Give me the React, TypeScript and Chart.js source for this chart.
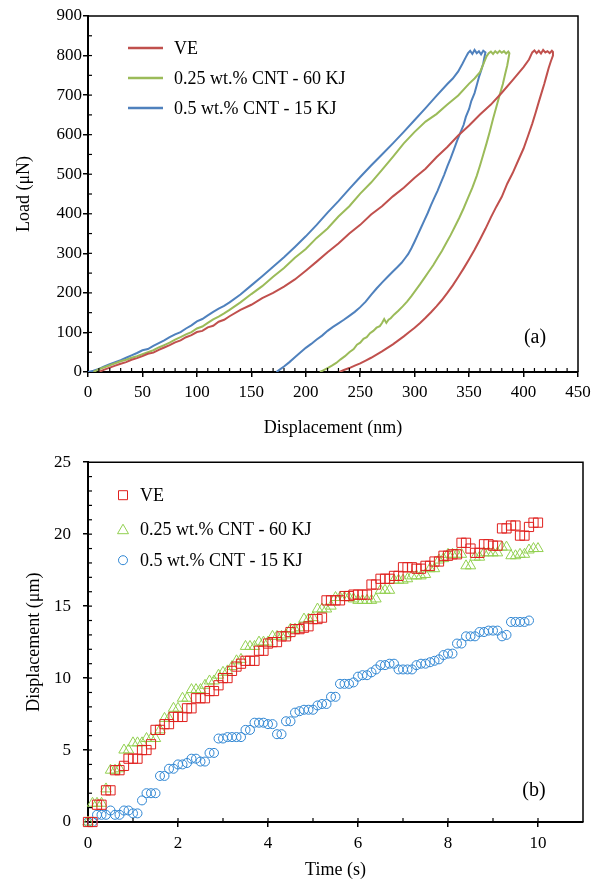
import React, { useEffect, useRef } from 'react';
import { Chart, registerables } from 'chart.js';
Chart.register(...registerables);

const SERIF = "'Liberation Serif', 'Times New Roman', serif";

const SERIES_NAMES = ['VE', '0.25 wt.% CNT - 60 KJ', '0.5 wt.% CNT - 15 KJ'];
const LINE_COLORS = ['#C0504D', '#9BBB59', '#4F81BD'];
const MARKER_COLORS = ['#E0201E', '#92D050', '#2F86D3'];

// (a) Load (μN) vs displacement (nm): [displacement, load]
const VE_CURVE = [
  [10, 0], [15, 6], [20, 11], [25, 16], [30, 21], [35, 25], [40, 31], [45, 35], [50, 40], [55, 46],
  [60, 49], [65, 56], [70, 62], [75, 68], [80, 75], [85, 80], [90, 88], [95, 93], [100, 101], [105, 104],
  [110, 113], [115, 117], [120, 127], [125, 132], [130, 141], [140, 157], [150, 170], [160, 187], [170, 200],
  [180, 216], [190, 234], [200, 256], [210, 279], [220, 303], [230, 325], [240, 350], [250, 372], [260, 398],
  [270, 419], [280, 444], [290, 466], [300, 491], [310, 514], [320, 543], [330, 569], [340, 598], [350, 623],
  [360, 651], [370, 676], [380, 706], [390, 738], [400, 771], [405, 790], [408, 808],
  [410, 813], [412, 806], [414, 812], [416, 805], [418, 814], [420, 808], [422, 811], [424, 806], [426, 812], [427, 809],
  [427, 800], [425, 785], [423, 768], [421, 748], [419, 728], [417, 710], [414, 683], [411, 655], [408, 628],
  [404, 596], [400, 565], [395, 534], [390, 503], [385, 476], [380, 443], [375, 418], [370, 391], [365, 362],
  [360, 335], [355, 309], [350, 285], [345, 262], [340, 240], [335, 219], [330, 200], [325, 182], [320, 166],
  [315, 151], [310, 137], [305, 124], [300, 112], [295, 101], [290, 90], [285, 80], [280, 70], [275, 61],
  [270, 52], [265, 44], [260, 36], [255, 29], [250, 22], [245, 16], [240, 10], [235, 5], [231, 0],
];

const CNT025_CURVE = [
  [5, 0], [10, 7], [15, 12], [20, 17], [25, 22], [30, 27], [35, 31], [40, 36], [45, 40], [50, 45],
  [55, 50], [60, 55], [65, 62], [70, 68], [75, 74], [80, 82], [85, 88], [90, 95], [95, 101], [100, 110],
  [105, 115], [110, 124], [115, 133], [120, 140], [125, 148], [130, 157], [140, 176], [150, 197], [160, 217],
  [170, 241], [180, 263], [190, 289], [200, 311], [210, 339], [220, 363], [230, 393], [240, 419], [250, 451],
  [260, 479], [270, 511], [280, 544], [290, 578], [300, 607], [310, 633], [320, 652], [330, 676], [340, 699],
  [350, 729], [355, 742], [360, 758], [363, 778], [366, 798],
  [368, 806], [370, 810], [372, 804], [374, 811], [376, 806], [378, 812], [380, 807], [382, 811], [384, 805], [386, 810], [387, 806],
  [386, 790], [385, 775], [383, 752], [381, 728], [378, 700], [375, 670], [372, 640], [369, 608], [366, 578],
  [363, 550], [360, 522], [357, 496], [353, 466], [349, 440], [345, 414], [341, 390], [337, 368], [333, 346],
  [329, 326], [325, 306], [321, 288], [317, 270], [313, 254], [309, 238], [305, 222], [301, 207], [297, 192],
  [293, 178], [289, 166], [285, 155], [281, 145], [278, 136], [276, 132], [274, 124], [272, 134], [270, 124],
  [268, 116], [265, 112], [262, 104], [259, 98], [256, 88], [253, 84], [250, 74], [247, 69], [244, 58],
  [240, 50], [236, 40], [232, 32], [228, 23], [224, 16], [220, 10], [216, 4], [213, 0],
];

const CNT05_CURVE = [
  [0, 0], [5, 3], [10, 8], [15, 14], [20, 20], [25, 25], [30, 30], [35, 36], [40, 42], [45, 48],
  [50, 55], [55, 58], [60, 66], [65, 73], [70, 80], [75, 88], [80, 95], [85, 101], [90, 110], [95, 118],
  [100, 128], [105, 134], [110, 143], [115, 152], [120, 160], [125, 167], [130, 176], [140, 196], [150, 219],
  [160, 242], [170, 266], [180, 290], [190, 316], [200, 343], [210, 372], [220, 403], [230, 432], [240, 463],
  [250, 493], [260, 522], [270, 550], [280, 578], [290, 607], [300, 637], [310, 667], [320, 698], [330, 728],
  [335, 742], [340, 760], [344, 780], [347, 796], [349, 806],
  [351, 812], [353, 804], [355, 814], [357, 806], [359, 811], [361, 803], [363, 812], [365, 808],
  [364, 795], [363, 780], [361, 762], [359, 745], [357, 725], [355, 705], [352, 685], [350, 665], [347, 645],
  [345, 625], [342, 605], [339, 585], [336, 562], [333, 540], [330, 520], [327, 498], [324, 478], [321, 458],
  [318, 440], [315, 422], [312, 402], [309, 384], [306, 366], [303, 348], [300, 330], [297, 313], [294, 298],
  [291, 287], [288, 276], [284, 265], [280, 254], [275, 240], [270, 226], [265, 211], [260, 195], [255, 178],
  [250, 164], [245, 152], [240, 142], [235, 132], [230, 123], [225, 114], [220, 104], [215, 92], [210, 82],
  [205, 71], [200, 61], [195, 49], [190, 37], [185, 25], [180, 14], [176, 6], [173, 0],
];

// (b) Displacement (μm) vs time (s)
const TIME_S = [
  0, 0.1, 0.2, 0.3, 0.4, 0.5, 0.6, 0.7, 0.8, 0.9,
  1.0, 1.1, 1.2, 1.3, 1.4, 1.5, 1.6, 1.7, 1.8, 1.9,
  2.0, 2.1, 2.2, 2.3, 2.4, 2.5, 2.6, 2.7, 2.8, 2.9,
  3.0, 3.1, 3.2, 3.3, 3.4, 3.5, 3.6, 3.7, 3.8, 3.9,
  4.0, 4.1, 4.2, 4.3, 4.4, 4.5, 4.6, 4.7, 4.8, 4.9,
  5.0, 5.1, 5.2, 5.3, 5.4, 5.5, 5.6, 5.7, 5.8, 5.9,
  6.0, 6.1, 6.2, 6.3, 6.4, 6.5, 6.6, 6.7, 6.8, 6.9,
  7.0, 7.1, 7.2, 7.3, 7.4, 7.5, 7.6, 7.7, 7.8, 7.9,
  8.0, 8.1, 8.2, 8.3, 8.4, 8.5, 8.6, 8.7, 8.8, 8.9,
  9.0, 9.1, 9.2, 9.3, 9.4, 9.5, 9.6, 9.7, 9.8, 9.9, 10.0,
];

const VE_DISP = [
  0, 0, 1.2, 1.2, 2.2, 2.2, 3.6, 3.6, 3.9, 4.4,
  4.4, 4.4, 5.0, 5.0, 5.4, 6.4, 6.4, 6.8, 6.8, 7.3,
  7.3, 7.3, 7.9, 7.9, 8.6, 8.6, 8.6, 9.1, 9.1, 9.5,
  10.0, 10.0, 10.5, 10.8, 11.0, 11.2, 11.2, 11.2, 11.9, 11.9,
  12.4, 12.5, 12.5, 12.9, 12.9, 13.2, 13.4, 13.4, 13.5, 13.6,
  14.1, 14.1, 14.2, 15.4, 15.4, 15.4, 15.4, 15.7, 15.7, 15.8,
  15.8, 15.8, 15.8, 16.5, 16.5, 16.9, 16.9, 16.9, 17.1, 17.1,
  17.7, 17.7, 17.7, 17.6, 17.6, 17.8, 17.8, 18.1, 18.1, 18.5,
  18.5, 18.6, 18.6, 19.4, 19.4, 19.0, 18.7, 18.7, 19.3, 19.3,
  19.2, 19.2, 20.4, 20.4, 20.6, 20.6, 19.9, 19.9, 20.5, 20.8, 20.8,
];

const CNT025_DISP = [
  0, 1.3, 1.3, 1.3, 2.3, 3.6, 3.6, 3.7, 5.0, 5.0,
  5.5, 5.5, 5.5, 5.8, 5.8, 5.8, 6.4, 7.2, 7.2, 7.9,
  7.9, 8.6, 8.6, 9.2, 9.2, 9.2, 9.5, 9.8, 9.8, 10.2,
  10.4, 10.5, 10.8, 11.2, 11.3, 12.2, 12.2, 12.2, 12.5, 12.5,
  12.5, 12.9, 12.9, 12.9, 13.0, 13.4, 13.4, 13.5, 14.1, 14.1,
  14.2, 14.8, 14.8, 14.8, 15.0, 15.6, 15.6, 15.6, 15.6, 15.5,
  15.4, 15.4, 15.4, 15.4, 15.5, 16.1, 16.1, 16.1, 16.8, 16.8,
  16.8, 16.9, 17.1, 17.1, 17.1, 17.2, 17.6, 17.6, 18.2, 18.3,
  18.6, 18.6, 18.6, 18.6, 17.8, 17.8, 18.4, 18.4, 18.7, 18.7,
  18.7, 18.7, 19.1, 19.1, 18.5, 18.5, 18.6, 18.6, 18.9, 19.0, 19.0,
];

const CNT05_DISP = [
  0, 0, 0.5, 0.5, 0.5, 0.8, 0.5, 0.5, 0.8, 0.8,
  0.6, 0.6, 1.5, 2.0, 2.0, 2.0, 3.2, 3.2, 3.7, 3.7,
  4.0, 4.0, 4.1, 4.4, 4.4, 4.2, 4.2, 4.8, 4.8, 5.8,
  5.8, 5.9, 5.9, 5.9, 5.9, 6.4, 6.4, 6.9, 6.9, 6.9,
  6.8, 6.8, 6.1, 6.1, 7.0, 7.0, 7.6, 7.7, 7.8, 7.8,
  7.8, 8.1, 8.2, 8.2, 8.7, 8.7, 9.6, 9.6, 9.6, 9.7,
  10.1, 10.2, 10.2, 10.4, 10.6, 10.9, 10.9, 11.0, 11.0, 10.6,
  10.6, 10.6, 10.6, 10.9, 11.0, 11.0, 11.1, 11.2, 11.3, 11.6,
  11.7, 11.7, 12.4, 12.4, 12.9, 12.9, 12.9, 13.2, 13.2, 13.3,
  13.3, 13.3, 12.9, 13.0, 13.9, 13.9, 13.9, 13.9, 14.0,
];

const toXY = (pairs: number[][]) => pairs.map(([x, y]) => ({ x, y }));
const timeXY = (vals: number[]) => vals.map((y, i) => ({ x: TIME_S[i], y }));

const framePlugin = (xMinor: number, yMinor: number) => ({
  id: 'frameMinor',
  afterDatasetsDraw(chart: any) {
    const { ctx, chartArea: a, scales } = chart;
    const x = scales.x;
    const y = scales.y;
    ctx.save();
    ctx.strokeStyle = '#000';
    ctx.lineWidth = 1.5;
    ctx.beginPath();
    ctx.moveTo(a.left, a.top);
    ctx.lineTo(a.right, a.top);
    ctx.lineTo(a.right, a.bottom);
    ctx.stroke();
    ctx.lineWidth = 1.2;
    const nx = Math.round((x.max - x.min) / xMinor);
    for (let i = 1; i < nx; i++) {
      const p = x.getPixelForValue(x.min + i * xMinor);
      ctx.beginPath();
      ctx.moveTo(p, a.bottom);
      ctx.lineTo(p, a.bottom - 4);
      ctx.stroke();
    }
    const ny = Math.round((y.max - y.min) / yMinor);
    for (let i = 1; i < ny; i++) {
      const p = y.getPixelForValue(y.min + i * yMinor);
      ctx.beginPath();
      ctx.moveTo(a.left, p);
      ctx.lineTo(a.left + 4, p);
      ctx.stroke();
    }
    ctx.restore();
  },
});

const lineLegendPlugin = {
  id: 'lineLegend',
  afterDraw(chart: any) {
    const { ctx, chartArea: a } = chart;
    ctx.save();
    ctx.font = `18px ${SERIF}`;
    ctx.textBaseline = 'middle';
    ctx.fillStyle = '#000';
    SERIES_NAMES.forEach((name, i) => {
      const yy = a.top + 32 + i * 30;
      ctx.strokeStyle = LINE_COLORS[i];
      ctx.lineWidth = 2.5;
      ctx.beginPath();
      ctx.moveTo(a.left + 40, yy);
      ctx.lineTo(a.left + 75, yy);
      ctx.stroke();
      ctx.fillText(name, a.left + 86, yy + 1);
    });
    ctx.font = `20px ${SERIF}`;
    ctx.textAlign = 'center';
    ctx.fillText('(a)', a.right - 43, a.bottom - 34);
    ctx.restore();
  },
};

const markerLegendPlugin = {
  id: 'markerLegend',
  afterDraw(chart: any) {
    const { ctx, chartArea: a } = chart;
    ctx.save();
    ctx.font = `18px ${SERIF}`;
    ctx.textBaseline = 'middle';
    const rows = [33, 67, 98];
    SERIES_NAMES.forEach((name, i) => {
      const yy = a.top + rows[i];
      const xx = a.left + 35;
      ctx.strokeStyle = MARKER_COLORS[i];
      ctx.lineWidth = 1;
      ctx.beginPath();
      if (i === 0) {
        ctx.rect(xx - 4.5, yy - 4.5, 9, 9);
      } else if (i === 1) {
        ctx.moveTo(xx - 5.5, yy + 4.5);
        ctx.lineTo(xx + 5.5, yy + 4.5);
        ctx.lineTo(xx, yy - 5);
        ctx.closePath();
      } else {
        ctx.arc(xx, yy, 4.5, 0, Math.PI * 2);
      }
      ctx.stroke();
      ctx.fillStyle = '#000';
      ctx.fillText(name, a.left + 52, yy + 1);
    });
    ctx.font = `20px ${SERIF}`;
    ctx.textAlign = 'center';
    ctx.fillText('(b)', a.right - 49, a.bottom - 31);
    ctx.restore();
  },
};

const axisCommon = (title: string, titlePad: any, tickPad: number) => ({
  type: 'linear' as const,
  ticks: { color: '#000', padding: tickPad, font: { family: SERIF, size: 17 } },
  grid: { drawOnChartArea: false, drawTicks: true, tickLength: 5, color: '#000', lineWidth: 1.5 },
  border: { display: true, color: '#000', width: 2 },
  title: { display: true, text: title, color: '#000', font: { family: SERIF, size: 18 }, padding: titlePad },
});

export default function App() {
  const topRef = useRef<HTMLCanvasElement>(null);
  const botRef = useRef<HTMLCanvasElement>(null);

  useEffect(() => {
    const curves = [VE_CURVE, CNT025_CURVE, CNT05_CURVE];
    const top = new Chart(topRef.current as HTMLCanvasElement, {
      type: 'scatter',
      data: {
        datasets: curves.map((c, i) => ({
          label: SERIES_NAMES[i],
          data: toXY(c),
          showLine: true,
          borderColor: LINE_COLORS[i],
          backgroundColor: LINE_COLORS[i],
          borderWidth: 2,
          pointRadius: 0,
          tension: 0,
        })),
      },
      options: {
        responsive: false,
        animation: false,
        layout: { padding: { left: 0, right: 24, top: 16, bottom: 0 } },
        plugins: { legend: { display: false }, tooltip: { enabled: false } },
        scales: {
          x: {
            ...axisCommon('Displacement (nm)', { top: 0, bottom: 1 }, 5),
            min: 0, max: 450,
            ticks: { color: '#000', padding: 5, stepSize: 50, font: { family: SERIF, size: 17 } },
            afterFit: (s: any) => { s.height = 68; },
          },
          y: {
            ...axisCommon('Load (μN)', { top: 13, bottom: 0 }, 1),
            min: 0, max: 900,
            ticks: { color: '#000', padding: 1, stepSize: 100, font: { family: SERIF, size: 17 } },
            afterFit: (s: any) => { s.width = 88; },
          },
        },
      } as any,
      plugins: [framePlugin(10, 50), lineLegendPlugin],
    });

    const disp = [VE_DISP, CNT025_DISP, CNT05_DISP];
    const styles = ['rect', 'triangle', 'circle'];
    const radii = [6.5, 6, 4.5];
    const bot = new Chart(botRef.current as HTMLCanvasElement, {
      type: 'scatter',
      data: {
        datasets: disp.map((d, i) => ({
          label: SERIES_NAMES[i],
          data: timeXY(d),
          pointStyle: styles[i],
          pointRadius: radii[i],
          pointBorderWidth: 1,
          borderColor: MARKER_COLORS[i],
          backgroundColor: 'rgba(0,0,0,0)',
          clip: false,
        })),
      },
      options: {
        responsive: false,
        animation: false,
        layout: { padding: { left: 0, right: 19, top: 19, bottom: 0 } },
        plugins: { legend: { display: false }, tooltip: { enabled: false } },
        scales: {
          x: {
            ...axisCommon('Time (s)', { top: 0, bottom: 3 }, 6),
            min: 0, max: 11,
            ticks: { color: '#000', padding: 6, stepSize: 2, includeBounds: false, font: { family: SERIF, size: 17 } },
            afterFit: (s: any) => { s.height = 62; },
          },
          y: {
            ...axisCommon('Displacement (μm)', { top: 23, bottom: 0 }, 12),
            min: 0, max: 25,
            ticks: { color: '#000', padding: 12, stepSize: 5, font: { family: SERIF, size: 17 } },
            afterFit: (s: any) => { s.width = 88; },
          },
        },
      } as any,
      plugins: [framePlugin(1, 1), markerLegendPlugin],
    });

    return () => {
      top.destroy();
      bot.destroy();
    };
  }, []);

  return (
    <div style={{ position: 'absolute', left: 0, top: 0, width: 602, height: 884, background: '#fff' }}>
      <canvas ref={topRef} width={602} height={440} style={{ position: 'absolute', left: 0, top: 0 }} />
      <canvas ref={botRef} width={602} height={444} style={{ position: 'absolute', left: 0, top: 440 }} />
    </div>
  );
}
